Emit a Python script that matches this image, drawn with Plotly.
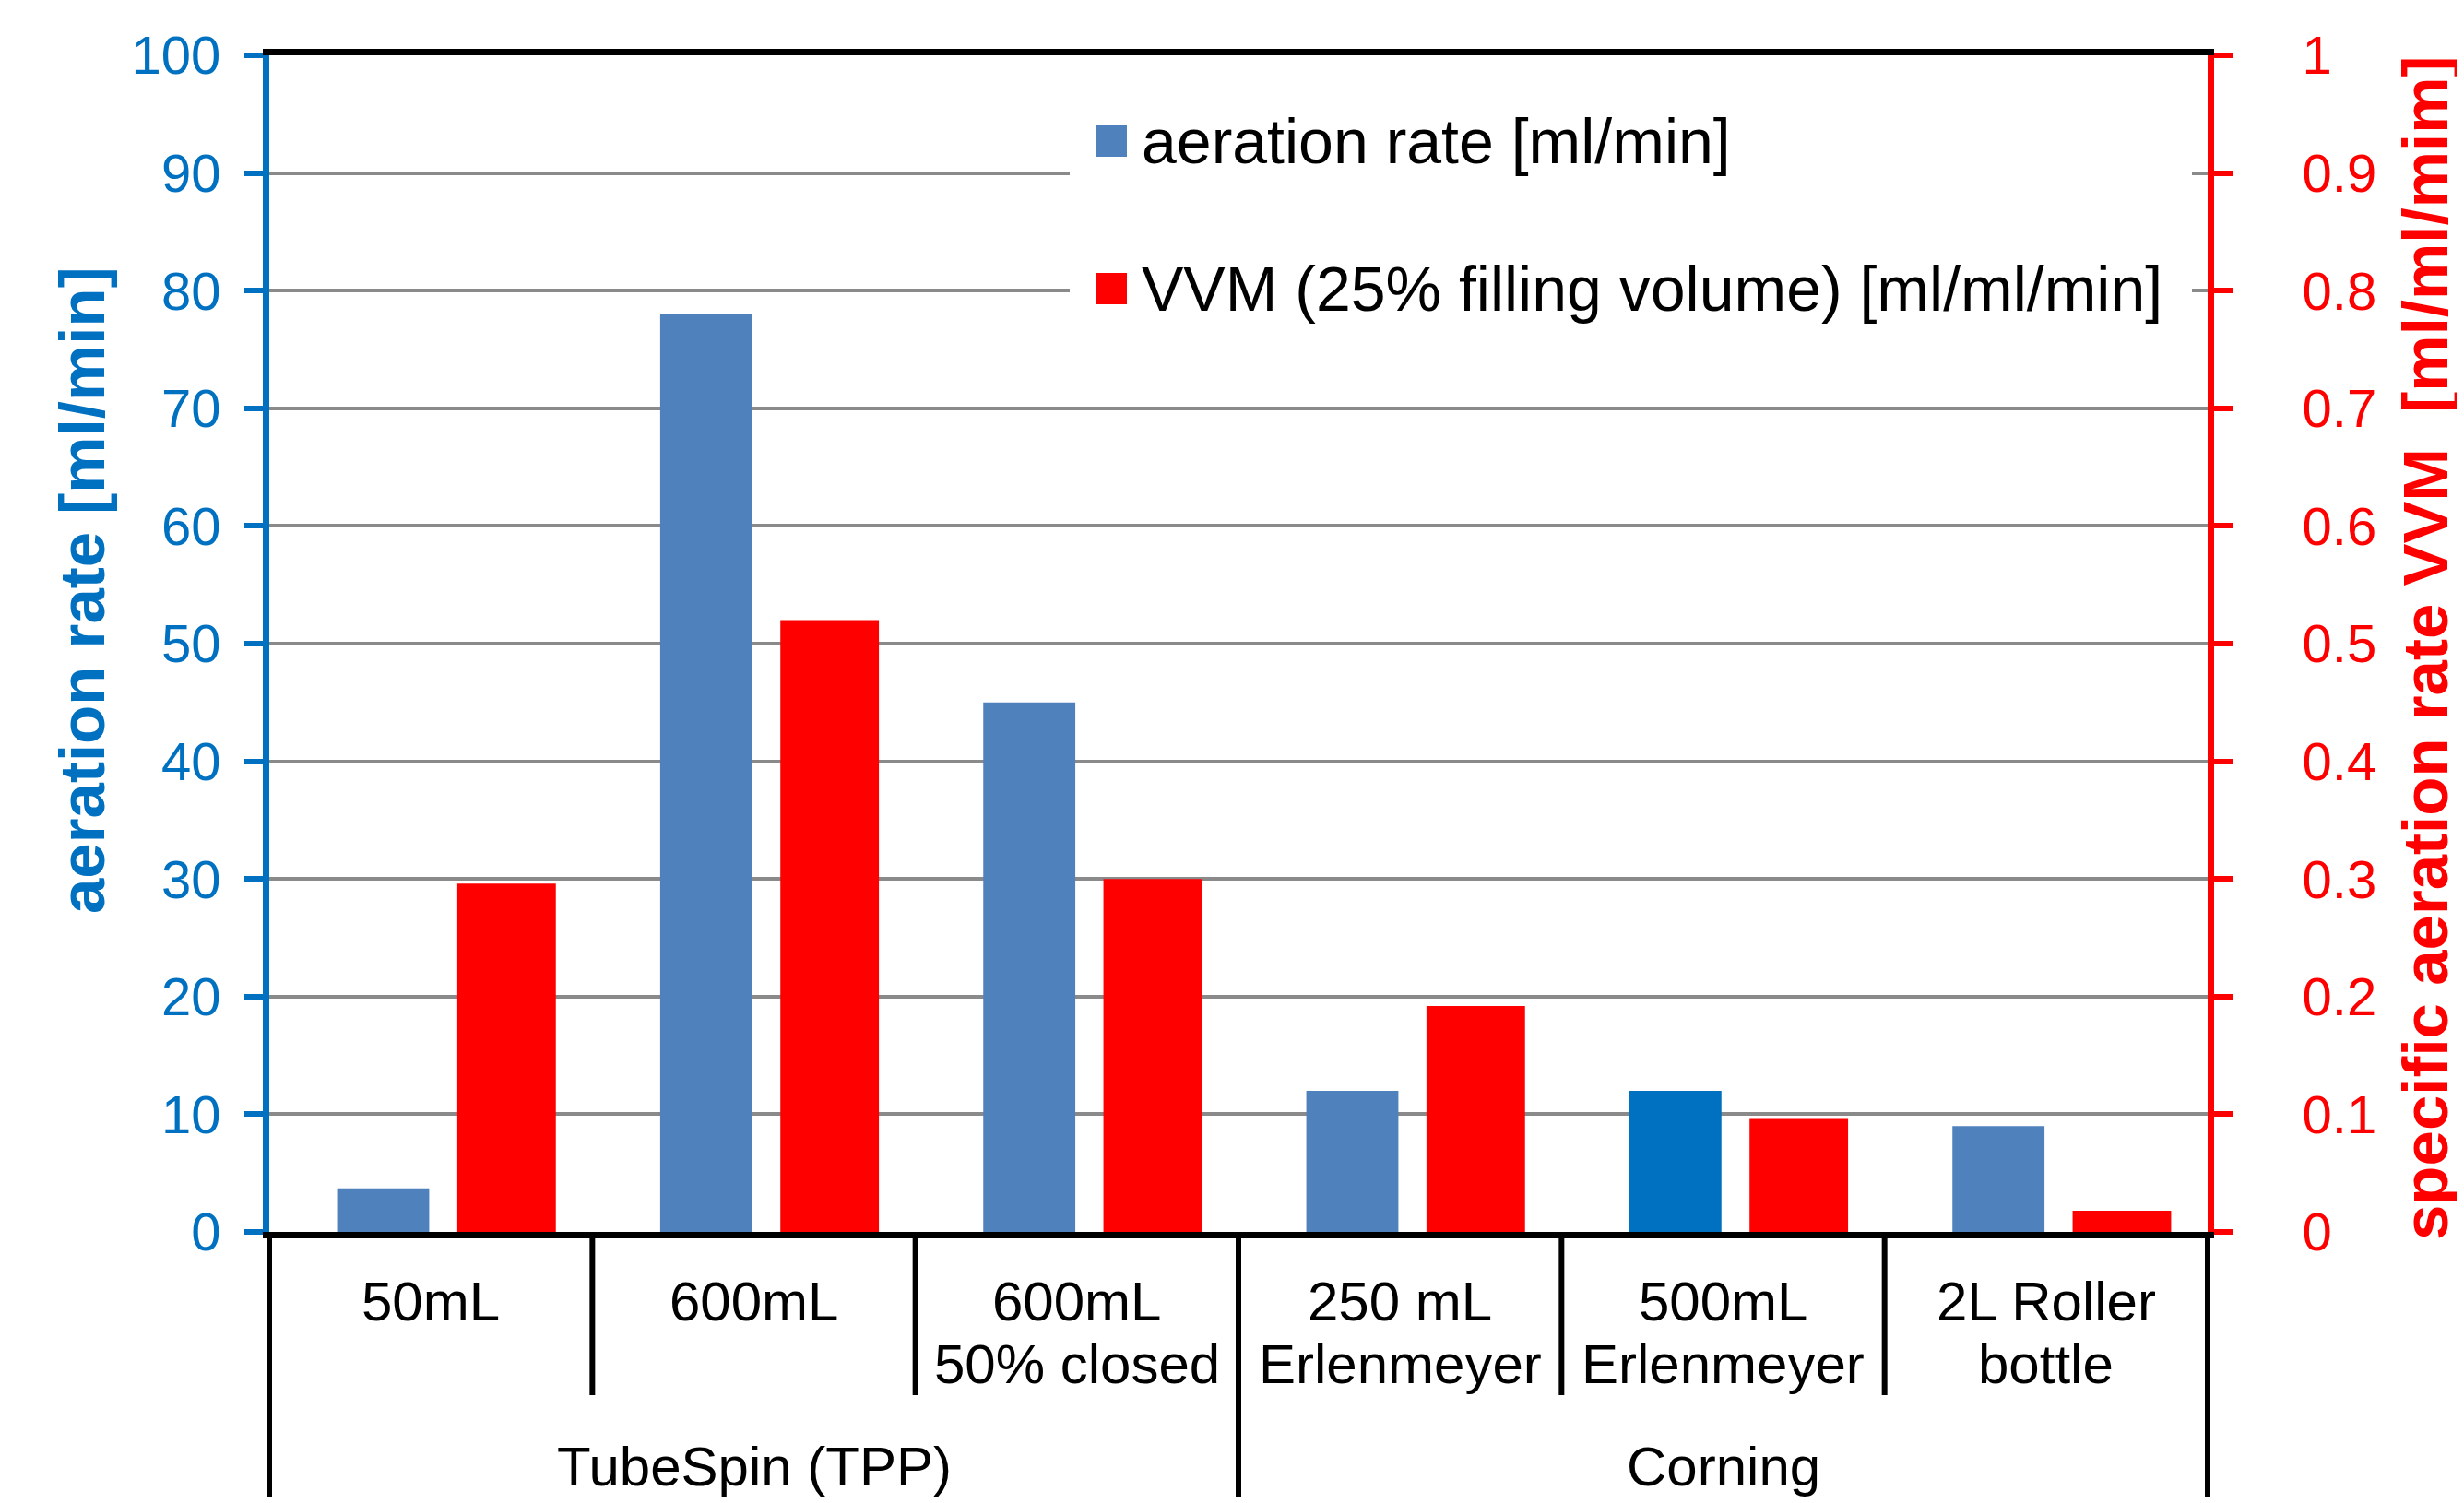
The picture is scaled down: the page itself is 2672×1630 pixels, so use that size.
import plotly.graph_objects as go

# ---------------- data ----------------
cat_line1 = ["50mL", "600mL", "600mL", "250 mL", "500mL", "2L Roller"]
cat_line2 = ["", "", "50% closed", "Erlenmeyer", "Erlenmeyer", "bottle"]
groups = ["TubeSpin (TPP)", "Corning"]
group_first = [0, 3]
group_last = [2, 5]
aeration_rate = [3.7, 78, 45, 12, 12, 9]          # ml/min (left axis)
vvm = [0.296, 0.52, 0.30, 0.192, 0.096, 0.018]   # ml/ml/min (right axis)
series_names = ["aeration rate [ml/min]", "VVM (25% filling volume) [ml/ml/min]"]
left_title = "aeration rate [ml/min]"
right_title = "specific aeration rate VVM  [ml/ml/mim]"

# ---------------- styling ----------------
OFF = 8                      # page body margin offset
W, H = 2672 - OFF, 1630 - OFF
L, R, T, B = 292, 2394, 60, 1336   # plot area in page pixels
FONT = "Liberation Sans, Arial, sans-serif"
BLUE = "#4F81BD"
BLUE_HI = "#0070C0"
RED = "#FF0000"
AX_BLUE = "#0070C0"

def py(Y):
    return (B - Y) / (B - T)

def px(X):
    return (X - L) / (R - L)

xs = list(range(len(cat_line1)))
n = len(xs)
blue_colors = [BLUE] * n
blue_colors[4] = BLUE_HI

fig = go.Figure()
fig.add_trace(go.Bar(x=xs, y=aeration_rate, name=series_names[0], yaxis="y",
                     width=0.285, offset=-0.29, marker=dict(color=blue_colors, line=dict(width=0)),
                     showlegend=False))
fig.add_trace(go.Bar(x=xs, y=vvm, name=series_names[1], yaxis="y2",
                     width=0.305, offset=0.082, marker=dict(color=RED, line=dict(width=0)),
                     showlegend=False))

shapes = []
annotations = []

# category divider lines below the axis
for b in range(n + 1):
    long_line = (b == 0) or (b == n) or ((b - 1) in group_last)
    y1 = py(1624) if long_line else py(1513)
    shapes.append(dict(type="line", xref="paper", yref="paper", x0=b / n, x1=b / n, y0=0, y1=y1,
                       line=dict(color="black", width=6)))

# category labels
for i in xs:
    annotations.append(dict(x=i, xref="x", y=py(1411), yref="paper", text=cat_line1[i],
                            showarrow=False, font=dict(family=FONT, size=60, color="black"),
                            xanchor="center", yanchor="middle"))
    if cat_line2[i]:
        annotations.append(dict(x=i, xref="x", y=py(1479), yref="paper", text=cat_line2[i],
                                showarrow=False, font=dict(family=FONT, size=60, color="black"),
                                xanchor="center", yanchor="middle"))
for g, a, b in zip(groups, group_first, group_last):
    annotations.append(dict(x=(a + b) / 2, xref="x", y=py(1590), yref="paper", text=g,
                            showarrow=False, font=dict(family=FONT, size=60, color="black"),
                            xanchor="center", yanchor="middle"))

# axis titles
annotations.append(dict(x=0, xref="paper", xshift=89 - L, y=py(640), yref="paper", text=left_title,
                        textangle=-90, showarrow=False,
                        font=dict(family=FONT, size=69, color=AX_BLUE, weight="bold"),
                        xanchor="center", yanchor="middle"))
annotations.append(dict(x=1, xref="paper", xshift=2630 - R, y=py(703), yref="paper", text=right_title,
                        textangle=-90, showarrow=False,
                        font=dict(family=FONT, size=69, color=RED, weight="bold"),
                        xanchor="center", yanchor="middle"))

# legend (box, swatches, labels)
shapes.append(dict(type="rect", xref="paper", yref="paper", x0=px(1160), x1=px(2377),
                   y0=py(380), y1=py(75), fillcolor="white", line=dict(width=0), layer="above"))
for k, (col, yc) in enumerate([(BLUE, 153), (RED, 313)]):
    shapes.append(dict(type="rect", xref="paper", yref="paper", x0=px(1188), x1=px(1222),
                       y0=py(yc + 17), y1=py(yc - 17), fillcolor=col, line=dict(width=0), layer="above"))
    annotations.append(dict(x=px(1236), xref="paper", y=py(yc), yref="paper", text=series_names[k],
                            showarrow=False, font=dict(family=FONT, size=68, color="black"),
                            xanchor="left", yanchor="middle"))

fig.update_layout(
    width=W, height=H,
    margin=dict(l=L - OFF, r=W - (R - OFF), t=T - OFF, b=H - (B - OFF), pad=0, autoexpand=False),
    paper_bgcolor="white", plot_bgcolor="white",
    barmode="overlay",
    showlegend=False,
    font=dict(family=FONT, color="black"),
    xaxis=dict(range=[-0.5, n - 0.5], showticklabels=False, ticks="", showgrid=False,
               zeroline=False, showline=True, linecolor="black", linewidth=7, mirror=True),
    yaxis=dict(range=[0, 100], dtick=10, tick0=0, showgrid=True, gridcolor="#8A8A8A", gridwidth=3.5,
               zeroline=False, showline=True, linecolor=AX_BLUE, linewidth=7,
               ticks="outside", ticklen=20, tickwidth=6, tickcolor=AX_BLUE,
               tickfont=dict(family=FONT, size=58, color=AX_BLUE), ticklabelstandoff=14),
    yaxis2=dict(range=[0, 1], dtick=0.1, tick0=0, overlaying="y", side="right", showgrid=False,
                zeroline=False, showline=True, linecolor=RED, linewidth=7,
                ticks="outside", ticklen=20, tickwidth=6, tickcolor=RED,
                tickfont=dict(family=FONT, size=58, color=RED), ticklabelstandoff=64),
    shapes=shapes,
    annotations=annotations,
)

fig.write_html("out.html")
